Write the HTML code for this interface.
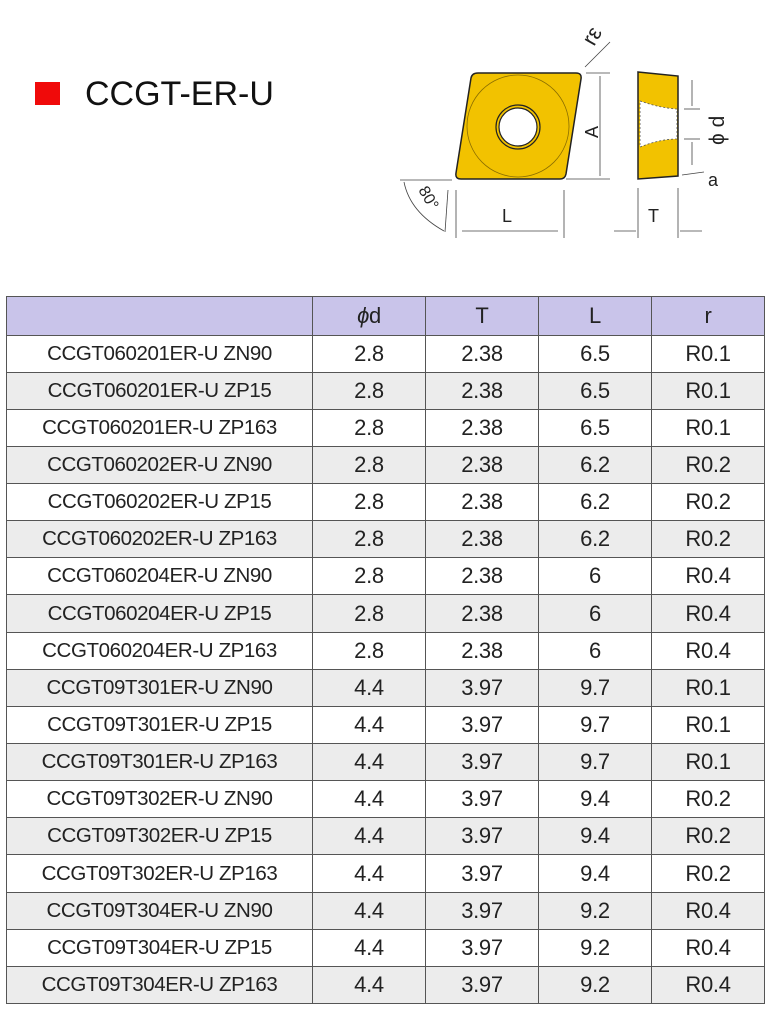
<!DOCTYPE html>
<html><head><meta charset="utf-8"><style>
body{margin:0;width:770px;height:1011px;background:#fff;position:relative;overflow:hidden;font-family:"Liberation Sans",sans-serif;}
.sq{position:absolute;left:35px;top:82px;width:25px;height:23px;background:#f00a0a;}
.title{position:absolute;left:85px;top:75px;font-size:34px;color:#111;}
table{position:absolute;left:6px;top:296px;border-collapse:collapse;}
td{border:1.5px solid #555;text-align:center;padding:0;height:36.15px;font-size:22px;color:#222;letter-spacing:-0.3px;}
td.c{font-size:20.5px;letter-spacing:-0.4px;}
tr.h td{background:#c9c4ea;height:37.5px;}
tr:nth-child(odd):not(.h) td{background:#ececec;}
svg{position:absolute;left:0;top:0;}
</style></head><body>
<div class="sq"></div><div class="title">CCGT-ER-U</div>
<svg width="770" height="260" font-family="Liberation Sans,sans-serif">
<path d="M478,73 L576,73 Q582,73 581,79 L566,174 Q565,179 560,179 L461,179 Q455,179 456,173 L471,78 Q472,73 478,73Z" fill="#f2c200" stroke="#222" stroke-width="1.5"/>
<circle cx="518" cy="126" r="51" fill="none" stroke="#8a6d00" stroke-width="0.8"/>
<circle cx="518" cy="127" r="22" fill="#f2c200" stroke="#222" stroke-width="1.2"/>
<circle cx="518" cy="127" r="19" fill="#fff" stroke="#222" stroke-width="1.2"/>
<path d="M638,72 L678,76 L678,176 L638,179Z" fill="#f2c200" stroke="#222" stroke-width="1.5"/>
<path d="M640,101 Q660,108 677,109 L677,139 Q660,139 640,147Z" fill="#fff" stroke="#555" stroke-dasharray="2,2" stroke-width="0.8"/>
<g stroke="#444" stroke-width="0.8" fill="none">
<line x1="586" y1="73" x2="610" y2="73"/><line x1="566" y1="179" x2="610" y2="179"/>
<line x1="600" y1="76" x2="600" y2="176"/>
<line x1="456" y1="190" x2="456" y2="238"/><line x1="564" y1="190" x2="564" y2="238"/>
<line x1="462" y1="231" x2="558" y2="231"/>
<line x1="638" y1="188" x2="638" y2="238"/><line x1="678" y1="188" x2="678" y2="238"/>
<line x1="614" y1="231" x2="636" y2="231"/><line x1="680" y1="231" x2="702" y2="231"/>
<line x1="684" y1="109" x2="700" y2="109"/><line x1="684" y1="139" x2="700" y2="139"/>
<line x1="692" y1="80" x2="692" y2="106"/><line x1="692" y1="142" x2="692" y2="165"/>
<line x1="610" y1="42" x2="585" y2="67"/>
<line x1="682" y1="175" x2="704" y2="172"/>
<line x1="400" y1="180" x2="452" y2="180"/>
<path d="M404,182 Q410,212 444,231"/><line x1="448" y1="190" x2="445" y2="232"/>
</g>
<g fill="#222" font-size="18">
<text x="502" y="222">L</text><text x="648" y="222">T</text>
<text x="708" y="186">a</text>
<text transform="translate(598,138) rotate(-90)">A</text>
<text transform="translate(724,145) rotate(-90)" font-size="21">ϕ d</text>
<text transform="translate(594,47) rotate(-60)" font-size="22">rε</text>
<text transform="translate(418,190) rotate(60)" font-size="16">80°</text>
</g>
</svg>
<table>
<colgroup><col style="width:306px"><col style="width:113px"><col style="width:113px"><col style="width:113px"><col style="width:113px"></colgroup>
<tr class="h"><td></td><td><i>ϕ</i>d</td><td>T</td><td>L</td><td>r</td></tr>
<tr><td class="c">CCGT060201ER-U ZN90</td><td>2.8</td><td>2.38</td><td>6.5</td><td>R0.1</td></tr>
<tr><td class="c">CCGT060201ER-U ZP15</td><td>2.8</td><td>2.38</td><td>6.5</td><td>R0.1</td></tr>
<tr><td class="c">CCGT060201ER-U ZP163</td><td>2.8</td><td>2.38</td><td>6.5</td><td>R0.1</td></tr>
<tr><td class="c">CCGT060202ER-U ZN90</td><td>2.8</td><td>2.38</td><td>6.2</td><td>R0.2</td></tr>
<tr><td class="c">CCGT060202ER-U ZP15</td><td>2.8</td><td>2.38</td><td>6.2</td><td>R0.2</td></tr>
<tr><td class="c">CCGT060202ER-U ZP163</td><td>2.8</td><td>2.38</td><td>6.2</td><td>R0.2</td></tr>
<tr><td class="c">CCGT060204ER-U ZN90</td><td>2.8</td><td>2.38</td><td>6</td><td>R0.4</td></tr>
<tr><td class="c">CCGT060204ER-U ZP15</td><td>2.8</td><td>2.38</td><td>6</td><td>R0.4</td></tr>
<tr><td class="c">CCGT060204ER-U ZP163</td><td>2.8</td><td>2.38</td><td>6</td><td>R0.4</td></tr>
<tr><td class="c">CCGT09T301ER-U ZN90</td><td>4.4</td><td>3.97</td><td>9.7</td><td>R0.1</td></tr>
<tr><td class="c">CCGT09T301ER-U ZP15</td><td>4.4</td><td>3.97</td><td>9.7</td><td>R0.1</td></tr>
<tr><td class="c">CCGT09T301ER-U ZP163</td><td>4.4</td><td>3.97</td><td>9.7</td><td>R0.1</td></tr>
<tr><td class="c">CCGT09T302ER-U ZN90</td><td>4.4</td><td>3.97</td><td>9.4</td><td>R0.2</td></tr>
<tr><td class="c">CCGT09T302ER-U ZP15</td><td>4.4</td><td>3.97</td><td>9.4</td><td>R0.2</td></tr>
<tr><td class="c">CCGT09T302ER-U ZP163</td><td>4.4</td><td>3.97</td><td>9.4</td><td>R0.2</td></tr>
<tr><td class="c">CCGT09T304ER-U ZN90</td><td>4.4</td><td>3.97</td><td>9.2</td><td>R0.4</td></tr>
<tr><td class="c">CCGT09T304ER-U ZP15</td><td>4.4</td><td>3.97</td><td>9.2</td><td>R0.4</td></tr>
<tr><td class="c">CCGT09T304ER-U ZP163</td><td>4.4</td><td>3.97</td><td>9.2</td><td>R0.4</td></tr>
</table>
</body></html>
